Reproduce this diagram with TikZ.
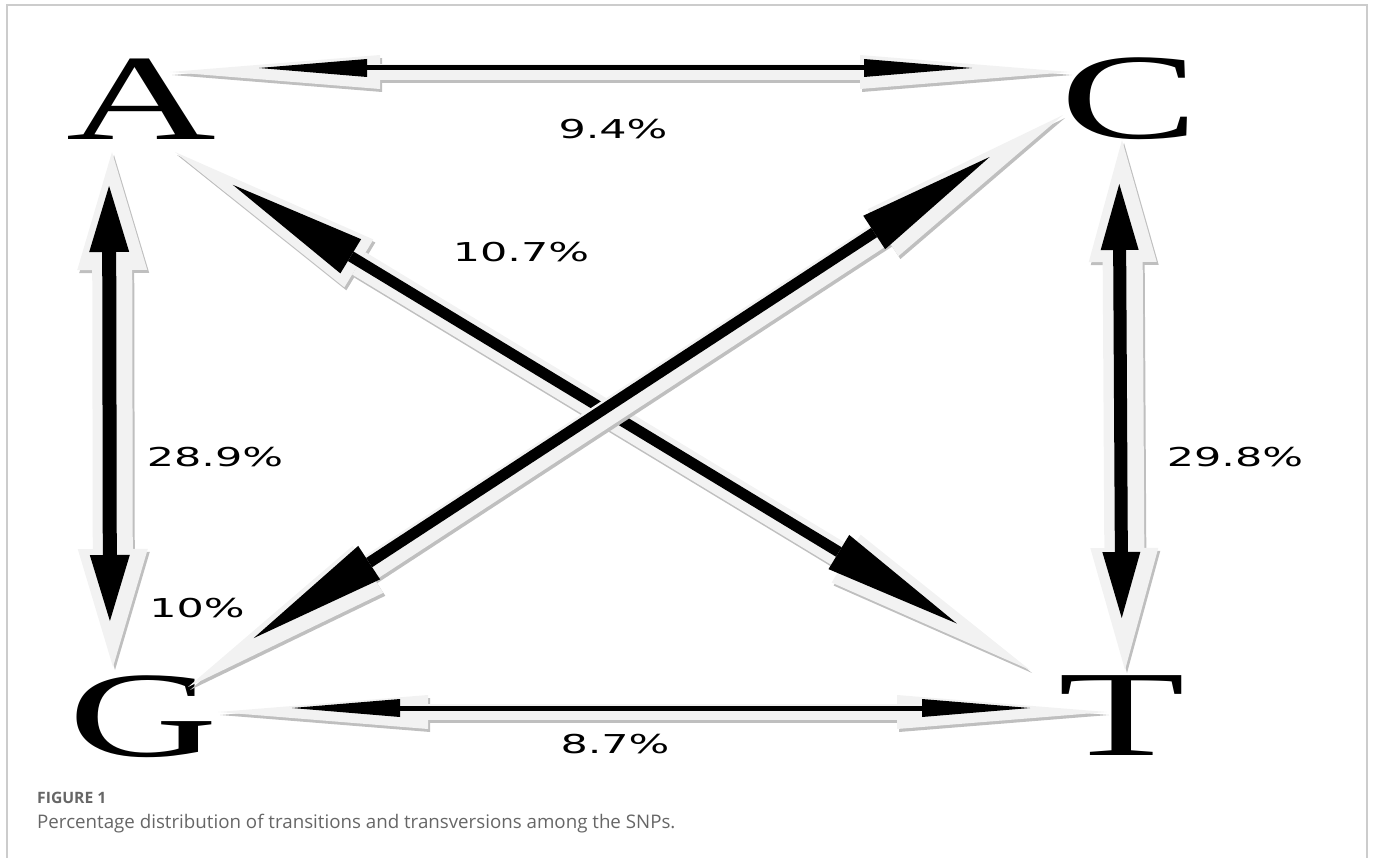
\documentclass[tikz,border=0pt]{standalone}
\usepackage{fontspec}
\setmainfont{Liberation Serif}
\newfontfamily\pctfont{DejaVu Sans}
\newfontfamily\capfont{Open Sans}
\usetikzlibrary{arrows.meta,calc}

\tikzset{
  letter/.style={inner sep=0pt, anchor=base, xscale=1.7, font=\fontsize{122}{122}\selectfont},
  pct/.style={inner sep=0pt, xscale=1.65, font=\pctfont\fontsize{26}{26}\selectfont},
  capline/.style={anchor=base west, inner sep=0pt, text=black!60},
  halo/.style n args={3}{draw=gray!10, line width=#1,
    {Triangle[width=#2,length=#3,line width=0pt]}-{Triangle[width=#2,length=#3,line width=0pt]}},
  shade/.style n args={3}{draw=gray!50, line width=#1, transform canvas={shift={(2,3)}},
    {Triangle[width=#2,length=#3,line width=0pt]}-{Triangle[width=#2,length=#3,line width=0pt]}},
  dart/.style n args={3}{draw=black, line width=#1, transform canvas={shift={(-3,-4)}},
    {Triangle[width=#2,length=#3,line width=0pt]}-{Triangle[width=#2,length=#3,line width=0pt]}},
}

\begin{document}
\begin{tikzpicture}[x=1pt,y=-1pt]
  \useasboundingbox (0,0) rectangle (1373,858);
  \draw[gray!40, line width=1.5] (7,858) |- (1367,5) -- (1367,858);

  % bases
  \node[letter] (A) at (141,140) {A};
  \node[letter] (C) at (1130,139) {C};
  \node[letter] (G) at (143,756) {G};
  \node[letter] (T) at (1122,755) {T};

  % arrow ends at the letters
  \coordinate (ac) at (170,72);
  \coordinate (ca) at (1070,72);
  \coordinate (gt) at (218,712);
  \coordinate (tg) at (1107,712);
  \coordinate (ag) at (112,152);
  \coordinate (ga) at (113,667);
  \coordinate (ct) at (1122,140);
  \coordinate (tc) at (1125,670);
  \coordinate (at) at (175,152);
  \coordinate (ta) at (1030,670);
  \coordinate (gc) at (188,687);
  \coordinate (cg) at (1063,115);

  % A -- C and G -- T
  \draw[shade={16}{34}{210}] (ac) -- (ca);
  \draw[halo={16}{34}{210}] (ac) -- (ca);
  \draw[dart={5}{18}{108}, shorten <=92, shorten >=95] (ac) -- (ca);
  \draw[shade={16}{34}{210}] (gt) -- (tg);
  \draw[halo={16}{34}{210}] (gt) -- (tg);
  \draw[dart={5}{18}{108}, shorten <=77, shorten >=74] (gt) -- (tg);

  % A -- G and C -- T
  \draw[shade={40}{70}{118}] (ag) -- (ga);
  \draw[halo={40}{70}{118}] (ag) -- (ga);
  \draw[dart={14}{40}{66}, shorten <=38, shorten >=42] (ag) -- (ga);
  \draw[shade={40}{68}{122}] (ct) -- (tc);
  \draw[halo={40}{68}{122}] (ct) -- (tc);
  \draw[dart={13}{38}{66}, shorten <=48, shorten >=48] (ct) -- (tc);

  % A -- T and G -- C
  \draw[shade={26}{56}{215}] (at) -- (ta);
  \draw[halo={26}{56}{215}] (at) -- (ta);
  \draw[dart={11}{40}{138}, shorten <=71, shorten >=82] (at) -- (ta);
  \draw[shade={26}{56}{215}] (gc) -- (cg);
  \draw[halo={26}{56}{215}] (gc) -- (cg);
  \draw[dart={11}{40}{138}, shorten <=82, shorten >=84] (gc) -- (cg);

  % percentages
  \node[pct] (pAC) at (613,129) {9.4\%};
  \node[pct] (pAT) at (521,252) {10.7\%};
  \node[pct] (pAG) at (215,457) {28.9\%};
  \node[pct] (pCT) at (1235,457) {29.8\%};
  \node[pct] (pGC) at (197,608) {10\%};
  \node[pct] (pGT) at (615,744) {8.7\%};

  % caption
  \node[capline, scale=1.12] (fig) at (37,803) {\capfont\bfseries\fontsize{14}{14}\selectfont FIGURE 1};
  \node[capline, scale=1.07] (cap) at (37,828) {\capfont\fontsize{17.5}{17.5}\selectfont Percentage distribution of transitions and transversions among the SNPs.};
\end{tikzpicture}
\end{document}
